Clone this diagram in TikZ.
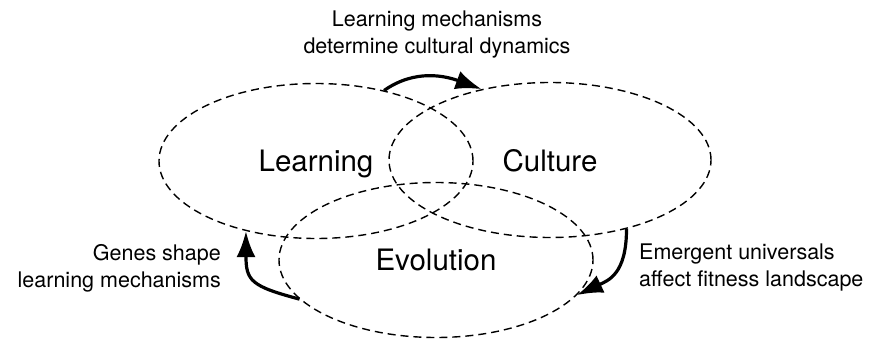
\documentclass[tikz,border=0pt]{standalone}
\usepackage{fontspec}
\setmainfont{TeX Gyre Heros}
\usetikzlibrary{shapes,arrows.meta,positioning}

\begin{document}
\begin{tikzpicture}[x=1pt,y=1pt,
    field/.style={draw,ellipse,inner sep=0pt,line width=1.4pt,dash pattern=on 8pt off 5pt,
        minimum width=314pt,minimum height=155pt,text depth=0pt,font=\fontsize{29.5}{34}\selectfont},
    note/.style={inner sep=0pt,font=\fontsize{21.5}{27}\selectfont},
    link/.style={line width=3.2pt,-{Latex[length=26pt,width=19pt]}}]
    \useasboundingbox (0,0) rectangle (873,343);
    % the three fields
    \node[field] (learn) at (316,182) {Learning};
    \node[field,minimum width=322pt] (cult) at (550,183) {Culture};
    \node[field] (evol) at (436,83) {Evolution};
    % notes
    \node[note,align=center] (top) at (437,308) {Learning mechanisms\\determine cultural dynamics};
    \node[note,align=right,anchor=east] (genes) at (221,75) {Genes shape\\learning mechanisms};
    \node[note,align=left,anchor=west] (emerg) at (639,75) {Emergent universals\\affect fitness landscape};
    % arrows between fields
    \draw[link] (learn.46) to[out=35,in=160] (cult.134);
    \draw[link] (evol.196) .. controls +(165:50) and +(-90:50) .. (learn.225);
    \draw[link] (cult.-42) .. controls +(-90:45) and +(25:35) .. (evol.-14);
\end{tikzpicture}
\end{document}
